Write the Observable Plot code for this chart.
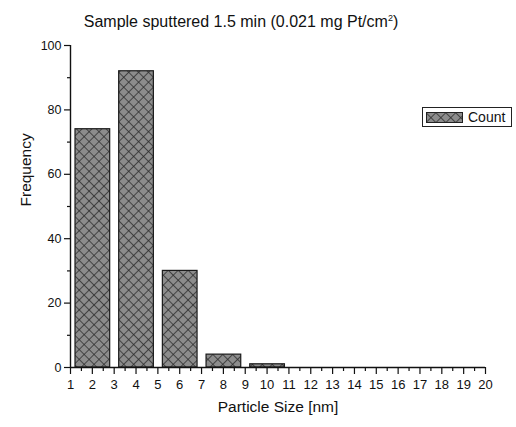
<!DOCTYPE html>
<html>
<head>
<meta charset="utf-8">
<script src="https://cdn.jsdelivr.net/npm/d3@7"></script>
<script src="https://cdn.jsdelivr.net/npm/@observablehq/plot@0.6"></script>
<style>
  html, body { margin: 0; padding: 0; background: #fff; }
  body { width: 516px; height: 427px; position: relative; overflow: hidden; font-family: "Liberation Sans", Arial, sans-serif; }
  #title { position: absolute; left: 0; top: 0; width: 482px; height: 32px; text-align: center; font-size: 16px; line-height: 36px; color: #111; }
  #title sup { font-size: 9px; }
  #chart { position: absolute; left: 0; top: 32px; }
  #legend { position: absolute; left: 422px; top: 107px; width: 90px; height: 20px; border: 1px solid #222; box-sizing: border-box; background: #fff; display: flex; align-items: center; font-size: 14px; color: #111; }
  #legend svg { margin-left: 3px; margin-right: 5px; }
</style>
</head>
<body>
<div id="title">Sample sputtered 1.5 min (0.021 mg Pt/cm<sup>2</sup>)</div>
<div id="chart"></div>
<div id="legend"><svg width="37" height="11"><defs>
  <pattern id="hatchL" width="7" height="7" patternUnits="userSpaceOnUse" patternTransform="rotate(45)">
    <rect width="7" height="7" fill="#8c8c8c"></rect>
    <line x1="0" y1="0" x2="0" y2="7" stroke="#2a2a2a" stroke-width="1.5"></line>
    <line x1="0" y1="0" x2="7" y2="0" stroke="#2a2a2a" stroke-width="1.5"></line>
  </pattern></defs>
  <rect x="0.5" y="0.5" width="36" height="10" fill="url(#hatchL)" stroke="#222"></rect></svg>Count</div>
<script>
// Data
const binStart = [1, 3, 5, 7, 9];
const binEnd   = [3, 5, 7, 9, 11];
const counts   = [74, 92, 30, 4, 1];
const xTicks = d3.range(1, 21);
const xMinor = d3.range(1.5, 20, 1);
const yTicks = [0, 20, 40, 60, 80, 100];
const yMinor = [10, 30, 50, 70, 90];
const seriesName = "Count";

const data = counts.map((c, i) => ({x1: binStart[i], x2: binEnd[i], y: c}));

const plot = Plot.plot({
  width: 516,
  height: 395,
  marginLeft: 70,
  marginRight: 31,
  marginTop: 13,
  marginBottom: 60,
  style: {fontFamily: "'Liberation Sans', Arial, sans-serif", fontSize: "12px", color: "#111", background: "transparent"},
  x: {domain: [1, 20]},
  y: {domain: [0, 100]},
  marks: [
    Plot.rectY(data, {x1: "x1", x2: "x2", y: "y", insetLeft: 5, insetRight: 4, fill: "url(#hatch)", stroke: "#1a1a1a", strokeWidth: 1.2}),
    Plot.ruleY([0], {stroke: "#111", strokeWidth: 1.4}),
    Plot.ruleX([1], {stroke: "#111", strokeWidth: 1.4}),
    Plot.axisX({ticks: xTicks, tickSize: 7, tickPadding: 5, tickFormat: d => d, label: null, fontSize: 13, strokeWidth: 1.2}),
    Plot.axisX({ticks: xMinor, tickSize: 4, tickFormat: () => "", label: null, strokeWidth: 1.2}),
    Plot.axisY({ticks: yTicks, tickSize: 6, tickPadding: 3, tickFormat: d => d, label: null, fontSize: 12.5, strokeWidth: 1.2}),
    Plot.axisY({ticks: yMinor, tickSize: 3, tickFormat: () => "", label: null, strokeWidth: 1.2}),
    Plot.text(["Frequency"], {frameAnchor: "left", dx: -44, rotate: -90, text: d => d, fontSize: 15.5, fill: "#111"}),
    Plot.text(["Particle Size [nm]"], {frameAnchor: "bottom", dy: 44, text: d => d, fontSize: 15.5, fill: "#111"})
  ]
});

// hatch pattern
const ns = "http://www.w3.org/2000/svg";
const defs = document.createElementNS(ns, "defs");
defs.innerHTML = `<pattern id="hatch" width="7" height="7" patternUnits="userSpaceOnUse" patternTransform="rotate(45)">
  <rect width="7" height="7" fill="#8c8c8c"></rect>
  <line x1="0" y1="0" x2="0" y2="7" stroke="#2a2a2a" stroke-width="1.5"></line>
  <line x1="0" y1="0" x2="7" y2="0" stroke="#2a2a2a" stroke-width="1.5"></line>
</pattern>`;
plot.insertBefore(defs, plot.firstChild);
document.getElementById("chart").appendChild(plot);
</script>
</body>
</html>
